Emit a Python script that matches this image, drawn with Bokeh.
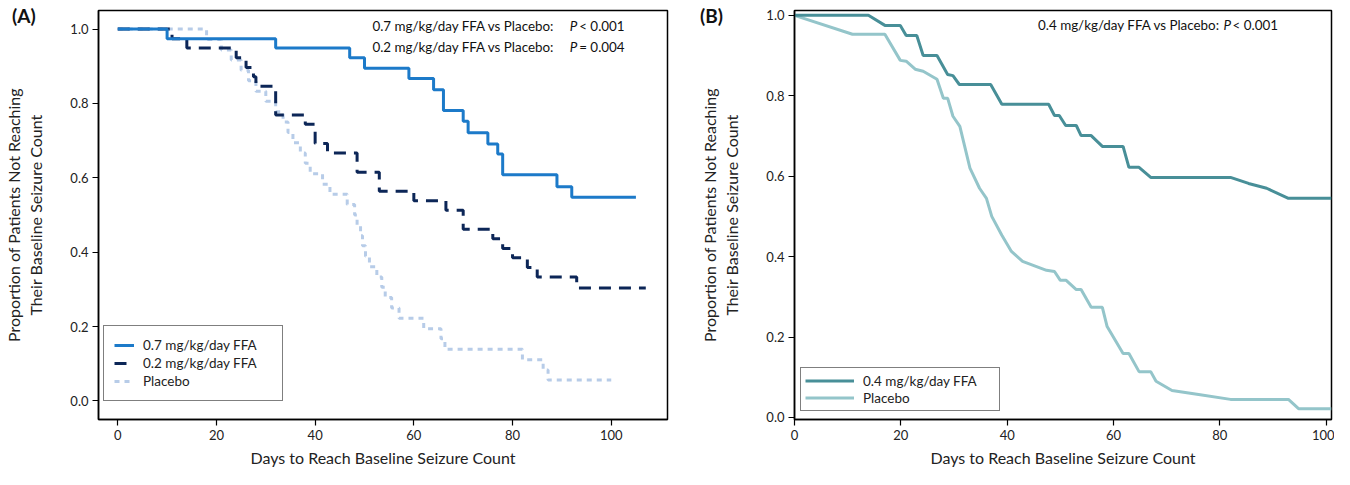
from bokeh.plotting import figure
from bokeh.layouts import row
from bokeh.models import (Label, Range1d, FixedTicker, NumeralTickFormatter,
                          Legend, LegendItem, Div)
from bokeh.embed import file_html
from bokeh.resources import INLINE

# ---------------- data ----------------
# Panel A: Kaplan-Meier steps
a_hi_t = [0, 10, 32, 47, 50, 59, 64, 66, 70, 71, 75, 77, 78, 89, 92, 105]
a_hi_s = [1.0, 0.974, 0.949, 0.923, 0.895, 0.867, 0.837, 0.781, 0.752, 0.721,
          0.691, 0.664, 0.608, 0.576, 0.548, 0.548]

a_lo_t = [0, 11, 14, 24, 26, 27.5, 28, 32, 38, 40, 42.5, 48.5, 53, 60, 66.5,
          70, 76, 78, 80, 83, 85, 93, 107]
a_lo_s = [1.0, 0.974, 0.949, 0.923, 0.897, 0.872, 0.846, 0.769, 0.744, 0.692,
          0.667, 0.615, 0.564, 0.538, 0.513, 0.462, 0.436, 0.41, 0.385, 0.359,
          0.333, 0.304, 0.304]

a_pl_t = [0, 18, 21, 23, 25, 26.5, 28, 30, 32, 33.5, 34.5, 35.5, 37, 38, 39,
          41.5, 43, 46.5, 48, 48.5, 49.2, 49.6, 50.2, 51, 52.5, 53.5, 54.2,
          55.5, 57, 62, 65.5, 66.3, 82, 86.2, 87.2, 100]
a_pl_s = [1.0, 0.972, 0.944, 0.917, 0.889, 0.861, 0.833, 0.806, 0.778, 0.75,
          0.722, 0.694, 0.667, 0.639, 0.611, 0.583, 0.556, 0.528, 0.5, 0.472,
          0.444, 0.417, 0.389, 0.361, 0.333, 0.306, 0.278, 0.25, 0.222, 0.194,
          0.167, 0.139, 0.111, 0.083, 0.056, 0.056]

# Panel B: curves
b_ffa_t = [0, 13.9, 17, 19.9, 21, 23, 24.2, 26.8, 28.8, 29.8, 31, 36.9, 39,
           47.8, 48.9, 49.8, 51, 53, 53.9, 55.8, 57.9, 61.8, 62.9, 64.8, 67,
           82, 85.4, 88.8, 92.9, 101]
b_ffa_s = [1.0, 1.0, 0.975, 0.975, 0.95, 0.95, 0.9, 0.9, 0.853, 0.85, 0.828,
           0.828, 0.779, 0.779, 0.751, 0.751, 0.726, 0.726, 0.701, 0.701,
           0.674, 0.674, 0.622, 0.622, 0.597, 0.597, 0.582, 0.57, 0.545, 0.545]

b_pl_t = [0, 10.9, 17, 19.9, 21, 22.7, 24.2, 26.8, 28, 28.8, 29.8, 31.1, 33,
          34.8, 36.1, 37.1, 39, 40.8, 42.9, 47.4, 48.9, 50, 51.1, 53, 53.9,
          55.8, 57.9, 58.8, 61.8, 62.9, 64.8, 67, 68, 71, 76, 82, 92.9, 94.8, 101]
b_pl_s = [1.0, 0.953, 0.953, 0.888, 0.886, 0.866, 0.861, 0.841, 0.794, 0.794,
          0.749, 0.724, 0.62, 0.57, 0.545, 0.5, 0.453, 0.413, 0.388, 0.366,
          0.363, 0.341, 0.341, 0.318, 0.318, 0.274, 0.274, 0.226, 0.159, 0.159,
          0.114, 0.114, 0.09, 0.067, 0.057, 0.045, 0.045, 0.022, 0.022]

x_ticks = [0, 20, 40, 60, 80, 100]
y_ticks = [0.0, 0.2, 0.4, 0.6, 0.8, 1.0]

a_names = ["0.7 mg/kg/day FFA", "0.2 mg/kg/day FFA", "Placebo"]
b_names = ["0.4 mg/kg/day FFA", "Placebo"]
panel_tags = ["(A)", "(B)"]
x_title = "Days to Reach Baseline Seizure Count"
y_title = "Proportion of Patients Not Reaching\nTheir Baseline Seizure Count"

FONT = "Lato"


def style(p, tick_standoff_x, tick_standoff_y, lab_standoff_x, lab_standoff_y):
    p.outline_line_color = "black"
    p.outline_line_width = 1.5
    p.outline_line_alpha = 1.0
    p.grid.visible = False
    p.xaxis.ticker = FixedTicker(ticks=x_ticks)
    p.yaxis.ticker = FixedTicker(ticks=y_ticks)
    p.yaxis.formatter = NumeralTickFormatter(format="0.0")
    for ax in (p.xaxis[0], p.yaxis[0]):
        ax.axis_line_color = "black"
        ax.axis_line_width = 1.5
        ax.major_tick_in = 0
        ax.major_tick_out = 6
        ax.major_tick_line_width = 1.2
        ax.minor_tick_in = 0
        ax.minor_tick_out = 0
        ax.major_label_text_font = FONT
        ax.major_label_text_font_size = "13px"
        ax.major_label_text_color = "#222222"
        ax.axis_label_text_font = FONT
        ax.axis_label_text_font_size = "16px"
        ax.axis_label_text_font_style = "normal"
        ax.axis_label_text_color = "#222222"
    p.xaxis.major_label_standoff = tick_standoff_x
    p.yaxis.major_label_standoff = tick_standoff_y
    p.xaxis.axis_label_standoff = lab_standoff_x
    p.yaxis.axis_label_standoff = lab_standoff_y
    p.xaxis.axis_label = x_title
    p.yaxis.axis_label = y_title


def style_legend(lg, loc, glyph_w, label_w, pad, row_h):
    lg.location = loc
    lg.border_line_color = "black"
    lg.border_line_width = 1.5
    lg.background_fill_color = "white"
    lg.background_fill_alpha = 1.0
    lg.label_text_font = FONT
    lg.label_text_font_size = "13.5px"
    lg.label_text_color = "#222222"
    lg.glyph_width = glyph_w
    lg.glyph_height = row_h
    lg.label_height = row_h
    lg.label_width = label_w
    lg.label_standoff = 9
    lg.spacing = 0
    lg.padding = pad
    lg.margin = 0


def add_text(p, x, y, text, italic=False, size="13.4px"):
    style_ = "italic" if italic else "normal"
    p.add_layout(Label(x=x, y=y, text=text, text_font=FONT,
                       text_font_size=size, text_font_style=style_,
                       text_color="#111111", text_baseline="middle",
                       text_align="left"))


def tag_div(text, left, top):
    return Div(text=text, width=40, height=24,
               styles={"position": "absolute", "left": f"{left}px",
                       "top": f"{top}px", "z-index": "10",
                       "font-family": FONT, "font-weight": "bold",
                       "font-size": "19px", "line-height": "24px",
                       "color": "#111111", "margin": "0", "padding": "0"})


# ---------------- Panel A ----------------
pA = figure(width=676, height=469, output_backend="svg", toolbar_location=None,
            x_range=Range1d(-3.9, 111.4), y_range=Range1d(-0.05, 1.05),
            min_border_left=92, min_border_right=9, min_border_top=4,
            min_border_bottom=50)
style(pA, 4, 4, 5, 22)

rA_pl = pA.step(a_pl_t, a_pl_s, mode="after", line_color="#b7cce8", line_width=3,
                line_dash="5 5")
rA_lo = pA.step(a_lo_t, a_lo_s, mode="after", line_color="#0c2657", line_width=3,
                line_dash="12 8")
rA_hi = pA.step(a_hi_t, a_hi_s, mode="after", line_color="#1c7ac9", line_width=3)
legA = Legend(items=[LegendItem(label=a_names[0], renderers=[rA_hi]),
                     LegendItem(label=a_names[1], renderers=[rA_lo]),
                     LegendItem(label=a_names[2], renderers=[rA_pl])])
pA.add_layout(legA)
style_legend(legA, (5, 18), 20, 129, 10, 18)

add_text(pA, 51.6, 1.008, "0.7 mg/kg/day FFA vs Placebo:")
add_text(pA, 91.6, 1.008, "P", italic=True)
add_text(pA, 93.5, 1.008, "< 0.001")
add_text(pA, 51.6, 0.952, "0.2 mg/kg/day FFA vs Placebo:")
add_text(pA, 91.6, 0.952, "P", italic=True)
add_text(pA, 93.5, 0.952, "= 0.004")

# ---------------- Panel B ----------------
pB = figure(width=658, height=469, output_backend="svg", toolbar_location=None,
            x_range=Range1d(0, 101), y_range=Range1d(-0.005, 1.012),
            min_border_left=118, min_border_right=3, min_border_top=10,
            min_border_bottom=50)
style(pB, 4, 4, 5, 22)

rB_pl = pB.line(b_pl_t, b_pl_s, line_color="#94c5ca", line_width=3)
rB_ffa = pB.line(b_ffa_t, b_ffa_s, line_color="#488f98", line_width=3)
legB = Legend(items=[LegendItem(label=b_names[0], renderers=[rB_ffa]),
                     LegendItem(label=b_names[1], renderers=[rB_pl])])
pB.add_layout(legB)
style_legend(legB, (6, 8), 49, 132, 4, 17)

add_text(pB, 45.8, 0.975, "0.4 mg/kg/day FFA vs Placebo:")
add_text(pB, 80.7, 0.975, "P", italic=True)
add_text(pB, 82.4, 0.975, "< 0.001")

layout = row(pA, pB, tag_div(panel_tags[0], 12, 4), tag_div(panel_tags[1], 700, 4))
open("out.html", "w").write(file_html(layout, INLINE))
